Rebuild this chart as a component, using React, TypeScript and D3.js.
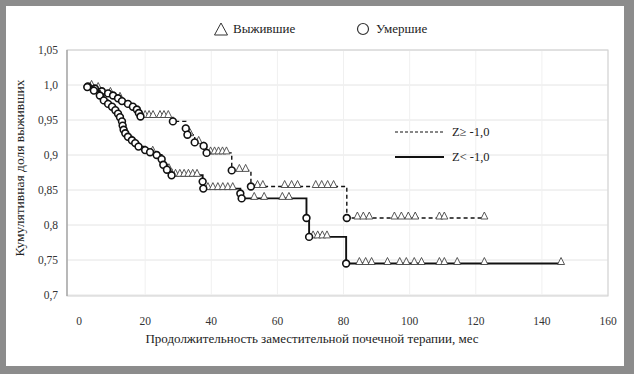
import React from "react";
import * as d3 from "d3";

// Z >= -1.0 (dashed): deaths as [months, survival after the step]
const upperDeaths: [number, number][] = [
  [2.7, 0.998], [4.8, 0.995], [6.9, 0.991], [8.8, 0.988], [10.3, 0.985], [11.8, 0.981],
  [13.0, 0.977], [14.8, 0.973], [16.3, 0.969], [17.5, 0.965], [18.1, 0.96], [18.6, 0.955],
  [28.4, 0.948], [32.3, 0.938], [32.8, 0.929], [35.0, 0.918], [37.7, 0.913], [38.6, 0.903],
  [46.2, 0.878], [52.0, 0.855], [81.0, 0.81],
];
const upperCensored = [
  3.8, 5.8, 9.5, 12.4, 20, 21.2, 22.4, 24.5, 25.7, 27, 33.6, 36.2, 39.8, 41, 42.2, 43.4, 44.6,
  48.5, 50.4, 54, 55.6, 62.2, 64.3, 66.1, 71.6, 73.4, 75.2, 77, 84.2, 86, 87.8, 95.4, 97.5,
  99.6, 101.7, 109, 110.5, 122.6,
];

// Z < -1.0 (solid)
const lowerDeaths: [number, number][] = [
  [2.5, 0.997], [4.5, 0.992], [6.3, 0.985], [7.5, 0.978], [8.8, 0.973], [10.0, 0.969],
  [11.0, 0.964], [11.8, 0.959], [12.4, 0.954], [13.0, 0.948], [13.2, 0.942], [13.5, 0.936],
  [14.0, 0.931], [14.8, 0.926], [16.0, 0.921], [17.0, 0.917], [18.0, 0.912], [20.0, 0.907],
  [21.5, 0.904], [23.5, 0.9], [25.0, 0.894], [25.5, 0.886], [26.6, 0.879], [28.0, 0.871],
  [37.4, 0.862], [37.6, 0.852], [48.8, 0.845], [49.2, 0.838], [68.8, 0.81], [69.6, 0.783],
  [80.8, 0.745],
];
const lowerCensored = [
  22.3, 27.2, 29.2, 30.5, 31.8, 33.1, 34.4, 35.7, 39, 40.5, 42, 43.5, 45, 46.5, 53, 56, 61.5,
  63.5, 70.8, 72.2, 73.6, 75, 84.8, 86.7, 88.5, 93.3, 97, 99, 101.4, 103.6, 109, 110.5, 114.4,
  122.6, 145.8,
];

const startTime = 2;
const xTicks = [0, 20, 40, 60, 80, 100, 120, 140, 160];
const yTicks = [0.7, 0.75, 0.8, 0.85, 0.9, 0.95, 1.0, 1.05];
const yTickLabels = ["0,7", "0,75", "0,8", "0,85", "0,9", "0,95", "1,0", "1,05"];

const font = "Liberation Serif, DejaVu Serif, serif";

const x = d3.scaleLinear().domain([0, 160]).range([79, 608]);
const y = d3.scaleLinear().domain([0.7, 1.05]).range([295, 50]);

function survivalAt(deaths: [number, number][], t: number) {
  let s = 1;
  for (const [dt, ds] of deaths) if (dt <= t) s = ds;
  return s;
}

function stepPoints(deaths: [number, number][], end: number): [number, number][] {
  const pts: [number, number][] = [[startTime, 1]];
  let s = 1;
  for (const [t, v] of deaths) {
    pts.push([t, s]);
    pts.push([t, v]);
    s = v;
  }
  pts.push([end, s]);
  return pts;
}

const line = d3.line<[number, number]>().x((d) => x(d[0])).y((d) => y(d[1]));

function tri(cx: number, cy: number, w: number, h: number) {
  return `M${cx - w / 2},${cy} L${cx},${cy - h} L${cx + w / 2},${cy} Z`;
}

function Curve({ deaths, censored, dash, width }: {
  deaths: [number, number][]; censored: number[]; dash?: string; width: number;
}) {
  const end = d3.max(censored)!;
  return (
    <g>
      <path d={line(stepPoints(deaths, end))!} fill="none" stroke="#111" strokeWidth={width}
        strokeDasharray={dash} />
      {censored.map((t, i) => (
        <path key={"c" + i} d={tri(x(t), y(survivalAt(deaths, t)) + 1, 7, 7)}
          fill="#fff" stroke="#444" strokeWidth={0.9} />
      ))}
      {deaths.map(([t, v], i) => (
        <circle key={"d" + i} cx={x(t)} cy={y(v)} r={3.4} fill="#fff" stroke="#111" strokeWidth={1.6} />
      ))}
    </g>
  );
}

export default function App() {
  const left = 67, right = 608, top = 50, bottom = 296;
  return (
    <svg width={634} height={374} style={{ position: "absolute", left: 0, top: 0, fontFamily: font }}>
      <rect x={0} y={0} width={634} height={374} fill="#8c8c8c" />
      <rect x={6} y={6} width={618} height={360} fill="#fff" />

      {/* grid */}
      {yTicks.map((v) => (
        <line key={"gy" + v} x1={left} x2={right} y1={y(v)} y2={y(v)} stroke="#e4e4e4" strokeWidth={1} />
      ))}
      {xTicks.slice(1).map((v) => (
        <line key={"gx" + v} x1={x(v)} x2={x(v)} y1={top} y2={bottom} stroke="#f0f0f0" strokeWidth={1} />
      ))}
      <rect x={left} y={top} width={right - left} height={bottom - top} fill="none" stroke="#cfcfcf" />
      <line x1={left} x2={left} y1={top} y2={bottom} stroke="#9a9a9a" strokeWidth={1.2} />

      {/* axis labels */}
      {yTicks.map((v, i) => (
        <text key={"ly" + v} x={58} y={y(v) + 4} textAnchor="end" fontFamily={font} fontSize={11.5} fill="#333">
          {yTickLabels[i]}
        </text>
      ))}
      {xTicks.map((v) => (
        <text key={"lx" + v} x={x(v)} y={325} textAnchor="middle" fontFamily={font} fontSize={11.5} fill="#333">
          {v}
        </text>
      ))}
      <text transform="translate(24,168) rotate(-90)" textAnchor="middle" fontFamily={font} fontSize={13.5} fill="#222">
        Кумулятивная доля выживших
      </text>
      <text x={312} y={343} textAnchor="middle" fontFamily={font} fontSize={13} fill="#222">
        Продолжительность заместительной почечной терапии, мес
      </text>

      {/* curves */}
      <Curve deaths={upperDeaths} censored={upperCensored} dash="4 3" width={1.4} />
      <Curve deaths={lowerDeaths} censored={lowerCensored} width={1.9} />

      {/* top legend */}
      <path d={tri(221, 35, 13, 12)} fill="#fff" stroke="#333" strokeWidth={1} />
      <text x={233} y={33} fontFamily={font} fontSize={13} fill="#222">Выжившие</text>
      <circle cx={363} cy={29} r={5.5} fill="#fff" stroke="#333" strokeWidth={1.2} />
      <text x={376} y={33} fontFamily={font} fontSize={13} fill="#222">Умершие</text>

      {/* inner legend */}
      <line x1={395} x2={444} y1={132} y2={132} stroke="#111" strokeWidth={1.2} strokeDasharray="3 2" />
      <text x={452} y={136} fontFamily={font} fontSize={12.5} fill="#222">Z≥ -1,0</text>
      <line x1={395} x2={444} y1={157} y2={157} stroke="#111" strokeWidth={1.9} />
      <text x={452} y={161} fontFamily={font} fontSize={12.5} fill="#222">Z&lt; -1,0</text>
    </svg>
  );
}
